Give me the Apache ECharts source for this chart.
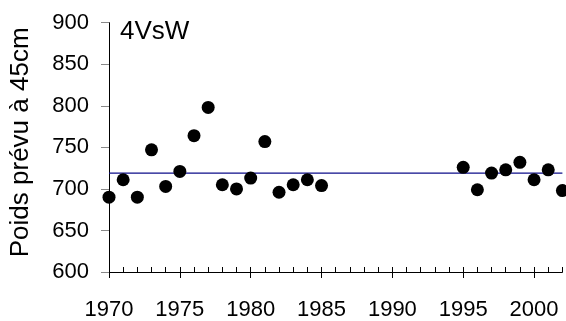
<!DOCTYPE html>
<html lang="fr">
<head>
    <meta charset="UTF-8">
    <title>4VsW</title>
    <script src="https://cdn.jsdelivr.net/npm/echarts@6/dist/echarts.min.js"></script>
    <style>
        html, body { margin: 0; padding: 0; background: #fff; }
        #chart { width: 566px; height: 321px; }
    </style>
</head>
<body>
<div id="chart"></div>
<script>
    // données
    var years = [1970, 1971, 1972, 1973, 1974, 1975, 1976, 1977, 1978, 1979, 1980, 1981,
                 1982, 1983, 1984, 1985, 1995, 1996, 1997, 1998, 1999, 2000, 2001, 2002];
    var weights = [690, 711, 690, 747, 703, 721, 764, 798, 705, 700, 713, 757,
                   696, 705, 711, 704, 726, 699, 719, 723, 732, 711, 723, 698];
    var meanWeight = 719;
    var xRange = [1970, 2002];
    var panelLabel = '4VsW';
    var yName = 'Poids prévu à 45cm';

    var points = years.map(function (y, i) { return [y, weights[i]]; });
    var meanPoints = xRange.map(function (y) { return [y, meanWeight]; });

    var font = 'Liberation Sans, Arial, sans-serif';
    var myChart = echarts.init(document.getElementById('chart'));

    var option = {
        animation: false,
        title: {
            text: panelLabel,
            left: 120,
            top: 19,
            padding: 0,
            textStyle: { fontFamily: font, fontSize: 26, fontWeight: 'normal', color: '#000' }
        },
        grid: { left: 109, right: 3.6, top: 22.7, bottom: 47, containLabel: false },
        xAxis: [{
            type: 'value',
            min: xRange[0],
            max: xRange[1],
            interval: 5,
            axisLine: { show: true, lineStyle: { color: '#000', width: 1 } },
            axisTick: { show: true, inside: false, length: 6, lineStyle: { color: '#000' } },
            axisLabel: {
                margin: 27,
                color: '#000',
                fontFamily: font,
                fontSize: 22,
                formatter: function (v) { return String(v); }
            },
            splitLine: { show: false }
        }, {
            type: 'value',
            min: xRange[0],
            max: xRange[1],
            interval: 1,
            position: 'bottom',
            axisLine: { show: false },
            axisTick: { show: true, inside: true, length: 5, lineStyle: { color: '#000' } },
            axisLabel: { show: false },
            splitLine: { show: false }
        }],
        yAxis: {
            type: 'value',
            min: 600,
            max: 900,
            interval: 50,
            name: yName,
            nameLocation: 'middle',
            nameGap: 75,
            nameRotate: 90,
            nameTextStyle: { fontFamily: font, fontSize: 26, color: '#000', padding: [0, 0, 0, 10] },
            axisLine: { show: true, lineStyle: { color: '#000', width: 1 } },
            axisTick: { show: true, length: 8, lineStyle: { color: '#888' } },
            axisLabel: { margin: 20, color: '#000', fontFamily: font, fontSize: 22 },
            splitLine: { show: false }
        },
        series: [{
            type: 'line',
            data: meanPoints,
            symbol: 'none',
            silent: true,
            lineStyle: { color: '#0c0c8a', width: 1.3 },
            z: 2
        }, {
            type: 'scatter',
            data: points,
            symbol: 'circle',
            symbolSize: 13,
            itemStyle: { color: '#000', opacity: 1 },
            z: 3
        }]
    };

    myChart.setOption(option);
</script>
</body>
</html>
